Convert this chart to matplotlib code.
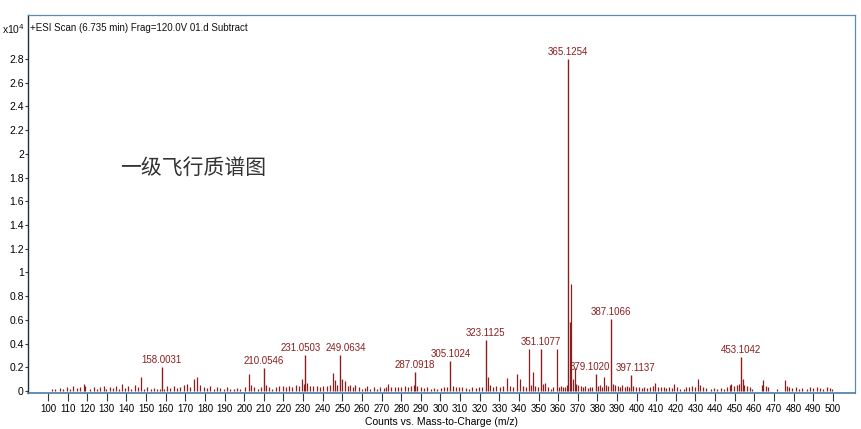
import matplotlib
matplotlib.use("Agg")
import matplotlib.pyplot as plt
import logging
logging.getLogger("matplotlib.font_manager").setLevel(logging.ERROR)

# ---- data ----
title_text = "+ESI Scan (6.735 min) Frag=120.0V 01.d Subtract"
xlabel_text = "Counts vs. Mass-to-Charge (m/z)"
cn_label = "一级飞行质谱图"

labeled_mz = [158.0031, 210.0546, 231.0503, 249.0634, 287.0918, 305.1024,
              323.1125, 351.1077, 365.1254, 379.1020, 387.1066, 397.1137, 453.1042]
labeled_h = [0.20, 0.19, 0.30, 0.30, 0.16, 0.25,
             0.43, 0.355, 2.80, 0.14, 0.61, 0.135, 0.29]

noise_100_200 = [(101.8, 0.02), (103.5, 0.015), (105.9, 0.025), (107.6, 0.02), (109.8, 0.03),
                 (111.2, 0.02), (112.9, 0.045), (114.6, 0.025), (116.3, 0.035), (118.2, 0.055),
                 (119.1, 0.04), (121.4, 0.02), (123.2, 0.03), (124.9, 0.02), (126.5, 0.035),
                 (128.3, 0.04), (129.8, 0.02), (131.6, 0.035), (133.2, 0.025), (134.9, 0.04),
                 (136.4, 0.02), (137.5, 0.06), (139.2, 0.025), (140.9, 0.04), (142.5, 0.02),
                 (144.2, 0.05), (145.8, 0.03), (147.6, 0.115), (149.0, 0.02), (150.7, 0.035),
                 (152.3, 0.02), (154.0, 0.025), (155.6, 0.02), (157.2, 0.015), (159.3, 0.02),
                 (160.8, 0.04), (162.4, 0.025), (164.1, 0.045), (165.8, 0.025), (167.5, 0.035),
                 (169.2, 0.05), (170.9, 0.06), (172.6, 0.035), (174.5, 0.10), (175.8, 0.12),
                 (177.6, 0.05), (179.3, 0.03), (181.0, 0.025), (182.7, 0.04), (184.4, 0.02),
                 (186.1, 0.03), (187.8, 0.025), (189.5, 0.02), (191.2, 0.03), (192.9, 0.02),
                 (194.6, 0.015), (196.3, 0.025), (198.0, 0.02)]

noise_200_300 = [(200.5, 0.03), (202.2, 0.14), (203.4, 0.05), (205.1, 0.03), (206.8, 0.02),
                 (208.4, 0.03), (211.2, 0.05), (212.6, 0.03), (214.3, 0.02), (216.0, 0.03),
                 (217.7, 0.04), (219.6, 0.04), (221.2, 0.03), (222.9, 0.04), (224.6, 0.035),
                 (226.3, 0.05), (228.0, 0.04), (229.7, 0.10), (230.4, 0.06), (232.2, 0.07),
                 (233.6, 0.04), (235.3, 0.045), (237.0, 0.04), (238.7, 0.035), (240.4, 0.04),
                 (242.1, 0.045), (243.5, 0.05), (245.0, 0.155), (246.3, 0.09), (247.5, 0.05),
                 (249.8, 0.10), (251.4, 0.08), (252.7, 0.04), (253.9, 0.05), (255.6, 0.03),
                 (256.6, 0.05), (258.3, 0.03), (260.0, 0.02), (261.7, 0.025), (262.5, 0.04),
                 (264.2, 0.02), (265.9, 0.03), (267.5, 0.02), (269.3, 0.03), (271.0, 0.025),
                 (272.5, 0.03), (273.4, 0.06), (275.0, 0.035), (276.7, 0.03), (278.4, 0.035),
                 (280.1, 0.03), (281.8, 0.04), (283.5, 0.035), (285.2, 0.04), (286.3, 0.05),
                 (288.2, 0.04), (289.9, 0.03), (291.6, 0.025), (293.3, 0.03), (295.0, 0.02),
                 (296.7, 0.025), (298.4, 0.02)]

noise_300_400 = [(300.1, 0.025), (301.8, 0.03), (303.5, 0.03), (306.5, 0.04), (307.8, 0.03),
                 (309.5, 0.035), (311.2, 0.03), (312.9, 0.025), (314.6, 0.02), (316.3, 0.03),
                 (318.0, 0.025), (319.7, 0.035), (321.4, 0.03), (324.1, 0.12), (325.4, 0.05),
                 (326.8, 0.03), (328.5, 0.04), (330.2, 0.03), (331.9, 0.04), (333.8, 0.11),
                 (335.3, 0.04), (337.0, 0.035), (339.2, 0.14), (340.6, 0.10), (342.3, 0.04),
                 (343.6, 0.03), (345.0, 0.355), (346.0, 0.05), (347.1, 0.16), (348.3, 0.04),
                 (349.6, 0.03), (352.4, 0.06), (353.5, 0.07), (354.8, 0.03), (356.2, 0.02),
                 (357.6, 0.03), (359.3, 0.35), (360.4, 0.03), (361.5, 0.04), (362.6, 0.03),
                 (363.7, 0.035), (364.5, 0.05), (365.9, 0.58), (366.8, 0.90), (367.8, 0.10),
                 (368.4, 0.19), (369.3, 0.06), (370.3, 0.05), (371.4, 0.04), (372.6, 0.03),
                 (373.8, 0.04), (375.0, 0.025), (376.2, 0.035), (377.5, 0.03), (380.3, 0.04),
                 (381.3, 0.05), (382.3, 0.03), (383.3, 0.12), (384.4, 0.05), (385.5, 0.04),
                 (388.1, 0.06), (389.2, 0.05), (390.3, 0.04), (391.4, 0.03), (392.5, 0.05),
                 (393.9, 0.03), (395.2, 0.04), (396.1, 0.03), (398.3, 0.04), (399.5, 0.03)]

noise_400_500 = [(401.1, 0.03), (402.5, 0.025), (404.0, 0.03), (405.5, 0.025), (407.0, 0.03),
                 (408.4, 0.04), (409.4, 0.07), (410.8, 0.03), (412.3, 0.035), (413.8, 0.03),
                 (415.2, 0.025), (416.6, 0.03), (418.0, 0.025), (419.2, 0.06), (420.5, 0.03),
                 (422.0, 0.02), (423.9, 0.02), (425.4, 0.03), (426.8, 0.035), (428.3, 0.04),
                 (429.7, 0.03), (431.5, 0.10), (432.4, 0.05), (433.8, 0.03), (435.3, 0.025),
                 (437.9, 0.02), (439.5, 0.025), (441.0, 0.02), (442.9, 0.025), (444.6, 0.02),
                 (446.3, 0.03), (447.5, 0.05), (448.3, 0.06), (449.7, 0.04), (451.0, 0.05),
                 (452.3, 0.06), (454.1, 0.10), (454.9, 0.05), (456.2, 0.04), (457.6, 0.03),
                 (459.0, 0.02), (463.7, 0.05), (464.5, 0.09), (465.8, 0.04), (467.1, 0.03),
                 (471.8, 0.02), (475.6, 0.09), (476.5, 0.04), (477.8, 0.03), (479.4, 0.025),
                 (481.0, 0.03), (482.6, 0.02), (484.4, 0.025), (486.8, 0.02), (488.5, 0.03),
                 (490.1, 0.025), (491.8, 0.03), (493.5, 0.025), (495.2, 0.02), (497.0, 0.03),
                 (498.6, 0.025), (499.6, 0.015)]

x_ticks = list(range(100, 501, 10))
y_ticks = [0, 0.2, 0.4, 0.6, 0.8, 1, 1.2, 1.4, 1.6, 1.8, 2, 2.2, 2.4, 2.6, 2.8]

# ---- style ----
narrow = ["Liberation Sans Narrow", "Liberation Sans", "DejaVu Sans"]
peak_color = "#8b1f1f"
frame_color = "#5b8bb3"
# small horizontal nudges (points) for labels of close neighbouring peaks
label_dx = {231.0503: -3.5, 249.0634: 3.5, 379.1020: -4.0, 397.1137: 3.5}

fig = plt.figure(figsize=(8.61, 4.29), dpi=100)
ax = fig.add_axes([28 / 861, 1 - 393 / 429, 827 / 861, 378 / 429])

noise = noise_100_200 + noise_200_300 + noise_300_400 + noise_400_500
n_mz = [p[0] for p in noise]
n_h = [p[1] for p in noise]
ax.vlines(n_mz, 0, n_h, color=peak_color, lw=0.9)
ax.vlines(labeled_mz, 0, labeled_h, color=peak_color, lw=1.0)

for mz, h in zip(labeled_mz, labeled_h):
    ax.annotate(f"{mz:.4f}", (mz, h), xytext=(label_dx.get(mz, 0), 1.5),
                textcoords="offset points", ha="center", va="bottom",
                color=peak_color, fontsize=7, family=narrow)

ax.set_xlim(89.8, 511.3)
ax.set_ylim(-0.017, 3.171)

ax.set_xticks(x_ticks)
ax.set_xticklabels([str(v) for v in x_ticks], family=narrow, fontsize=7)
ax.set_yticks(y_ticks)
ax.set_yticklabels([f"{v:g}" for v in y_ticks], family=narrow, fontsize=7.5)
ax.tick_params(axis="x", length=6, width=0.8, color="#2a3a4a", pad=2)
ax.tick_params(axis="y", length=2, width=0.8, color="#2a3a4a", pad=1)

for side in ["top", "right"]:
    ax.spines[side].set_color(frame_color)
    ax.spines[side].set_linewidth(0.9)
ax.spines["bottom"].set_color("#4a7aa3")
ax.spines["bottom"].set_linewidth(1.2)
ax.spines["left"].set_color("#1f2f40")
ax.spines["left"].set_linewidth(1.0)

ax.set_xlabel(xlabel_text, family=narrow, fontsize=7.5, labelpad=2)

ax.text(0.003, 0.965, title_text, transform=ax.transAxes, ha="left", va="center",
        fontsize=7, family=narrow, color="#111111")
fig.text(2 / 861, 1 - 29 / 429, "x10$^{4}$", ha="left", va="center",
         fontsize=7.5, family=narrow, color="#111111")

ax.text(0.111, 0.595, cn_label, transform=ax.transAxes, ha="left", va="center",
        fontsize=15, family=["Noto Sans CJK SC", "DejaVu Sans"], color="#333333")

fig.savefig("out.png", dpi=100)
